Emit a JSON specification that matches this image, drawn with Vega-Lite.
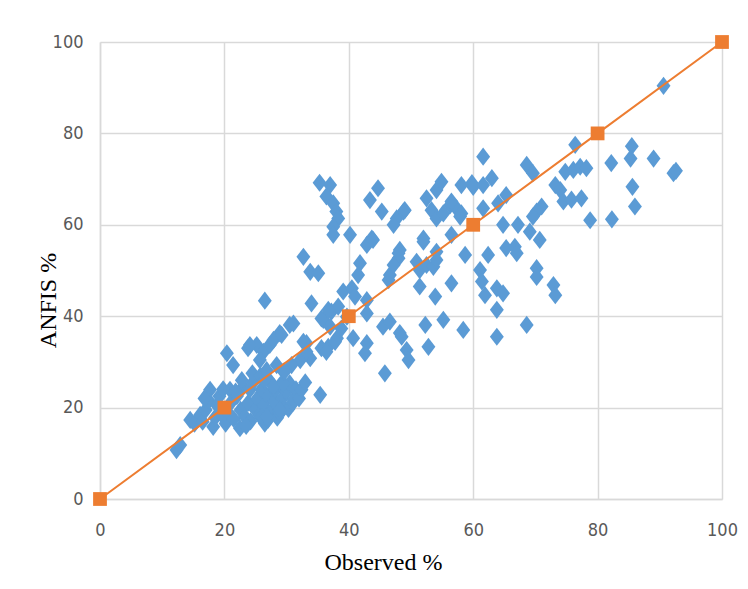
{
  "$schema": "https://vega.github.io/schema/vega-lite/v6.json",
  "width": 622,
  "height": 457,
  "autosize": {"type": "none"},
  "padding": {"left": 100, "top": 42, "right": 26, "bottom": 90},
  "background": "white",
  "config": {
    "view": {"stroke": null},
    "axis": {
      "gridColor": "#d9d9d9",
      "gridWidth": 1.5,
      "domainColor": "#d9d9d9",
      "domainWidth": 1.5,
      "ticks": false,
      "labelFlush": false,
      "labelColor": "#595959",
      "labelFont": "DejaVu Sans Condensed, Roboto, sans-serif",
      "labelFontSize": 18,
      "titleFont": "Liberation Serif",
      "titleFontWeight": "normal",
      "titleColor": "#000000",
      "titleFontSize": 24
    }
  },
  "datasets": {
    "obs": [
      {"observed": 12.3, "anfis": 10.7}, {"observed": 12.9, "anfis": 11.8}, {"observed": 14.5, "anfis": 17.3}, {"observed": 15.2, "anfis": 16.5},
      {"observed": 16.1, "anfis": 18.4}, {"observed": 16.5, "anfis": 16.9}, {"observed": 17.0, "anfis": 19.5}, {"observed": 17.7, "anfis": 23.9},
      {"observed": 17.5, "anfis": 21.5}, {"observed": 18.2, "anfis": 15.8}, {"observed": 18.5, "anfis": 17.8}, {"observed": 18.8, "anfis": 20.5},
      {"observed": 19.2, "anfis": 22.5}, {"observed": 19.5, "anfis": 18.5}, {"observed": 20.2, "anfis": 16.5}, {"observed": 20.4, "anfis": 19.2},
      {"observed": 20.9, "anfis": 23.9}, {"observed": 21.0, "anfis": 21.0}, {"observed": 21.5, "anfis": 17.5}, {"observed": 22.0, "anfis": 22.5},
      {"observed": 22.5, "anfis": 15.5}, {"observed": 22.6, "anfis": 19.5}, {"observed": 23.0, "anfis": 24.5}, {"observed": 23.3, "anfis": 18.0},
      {"observed": 23.8, "anfis": 21.0}, {"observed": 24.1, "anfis": 23.9}, {"observed": 24.2, "anfis": 17.0}, {"observed": 24.6, "anfis": 25.5},
      {"observed": 25.0, "anfis": 19.5}, {"observed": 25.3, "anfis": 22.0}, {"observed": 25.6, "anfis": 18.3}, {"observed": 26.0, "anfis": 24.0},
      {"observed": 26.3, "anfis": 20.5}, {"observed": 26.5, "anfis": 16.5}, {"observed": 27.0, "anfis": 17.3}, {"observed": 27.0, "anfis": 22.5},
      {"observed": 27.4, "anfis": 25.6}, {"observed": 27.8, "anfis": 19.5}, {"observed": 28.0, "anfis": 21.3}, {"observed": 28.2, "anfis": 23.8},
      {"observed": 28.5, "anfis": 17.8}, {"observed": 28.9, "anfis": 18.8}, {"observed": 29.0, "anfis": 25.0}, {"observed": 29.3, "anfis": 22.0},
      {"observed": 29.6, "anfis": 20.0}, {"observed": 30.0, "anfis": 23.5}, {"observed": 30.3, "anfis": 19.7}, {"observed": 30.5, "anfis": 25.3},
      {"observed": 31.0, "anfis": 21.0}, {"observed": 31.1, "anfis": 21.7}, {"observed": 31.5, "anfis": 24.0}, {"observed": 32.0, "anfis": 22.0},
      {"observed": 32.4, "anfis": 23.9}, {"observed": 33.0, "anfis": 25.5}, {"observed": 35.4, "anfis": 22.8}, {"observed": 16.8, "anfis": 22.0},
      {"observed": 19.8, "anfis": 24.0}, {"observed": 21.8, "anfis": 23.5}, {"observed": 22.8, "anfis": 26.0}, {"observed": 24.5, "anfis": 27.5},
      {"observed": 25.8, "anfis": 27.0}, {"observed": 26.5, "anfis": 26.0}, {"observed": 23.5, "anfis": 16.0}, {"observed": 26.0, "anfis": 18.0},
      {"observed": 28.9, "anfis": 19.5}, {"observed": 26.8, "anfis": 18.0}, {"observed": 27.9, "anfis": 24.6}, {"observed": 29.5, "anfis": 25.3},
      {"observed": 20.4, "anfis": 31.9}, {"observed": 21.4, "anfis": 29.3}, {"observed": 23.8, "anfis": 33.0}, {"observed": 25.2, "anfis": 33.7},
      {"observed": 26.3, "anfis": 32.2}, {"observed": 27.3, "anfis": 33.7}, {"observed": 25.7, "anfis": 30.4}, {"observed": 26.8, "anfis": 28.2},
      {"observed": 28.4, "anfis": 29.3}, {"observed": 29.5, "anfis": 27.9}, {"observed": 28.9, "anfis": 36.3}, {"observed": 27.9, "anfis": 34.8},
      {"observed": 29.2, "anfis": 35.9}, {"observed": 30.5, "anfis": 38.1}, {"observed": 26.5, "anfis": 43.4}, {"observed": 24.1, "anfis": 33.7},
      {"observed": 33.2, "anfis": 34.1}, {"observed": 33.8, "anfis": 30.8}, {"observed": 32.2, "anfis": 30.4}, {"observed": 30.8, "anfis": 29.3},
      {"observed": 29.7, "anfis": 27.9}, {"observed": 35.6, "anfis": 33.0}, {"observed": 36.7, "anfis": 33.3}, {"observed": 38.1, "anfis": 35.2},
      {"observed": 32.7, "anfis": 34.4}, {"observed": 33.2, "anfis": 32.2}, {"observed": 36.4, "anfis": 32.2}, {"observed": 37.8, "anfis": 34.4},
      {"observed": 38.8, "anfis": 37.3}, {"observed": 39.7, "anfis": 39.9}, {"observed": 35.9, "anfis": 39.2}, {"observed": 37.2, "anfis": 41.0},
      {"observed": 38.3, "anfis": 42.1}, {"observed": 31.1, "anfis": 38.4}, {"observed": 34.0, "anfis": 42.8}, {"observed": 35.6, "anfis": 39.5},
      {"observed": 37.0, "anfis": 37.7}, {"observed": 40.7, "anfis": 35.2}, {"observed": 42.9, "anfis": 34.1}, {"observed": 42.6, "anfis": 31.9},
      {"observed": 36.7, "anfis": 41.4}, {"observed": 35.3, "anfis": 69.2}, {"observed": 37.0, "anfis": 68.7}, {"observed": 36.4, "anfis": 66.2},
      {"observed": 37.5, "anfis": 64.7}, {"observed": 38.0, "anfis": 62.9}, {"observed": 38.3, "anfis": 61.4}, {"observed": 37.5, "anfis": 59.6},
      {"observed": 37.5, "anfis": 57.8}, {"observed": 40.2, "anfis": 57.8}, {"observed": 44.7, "anfis": 68.0}, {"observed": 43.4, "anfis": 65.4},
      {"observed": 45.3, "anfis": 62.9}, {"observed": 47.7, "anfis": 61.4}, {"observed": 48.8, "anfis": 62.9}, {"observed": 47.2, "anfis": 60.0},
      {"observed": 49.0, "anfis": 63.2}, {"observed": 43.7, "anfis": 57.0}, {"observed": 42.9, "anfis": 55.6}, {"observed": 43.9, "anfis": 56.7},
      {"observed": 48.2, "anfis": 54.5}, {"observed": 48.0, "anfis": 52.7}, {"observed": 32.7, "anfis": 53.0}, {"observed": 41.8, "anfis": 51.6},
      {"observed": 41.5, "anfis": 49.0}, {"observed": 33.8, "anfis": 49.7}, {"observed": 35.1, "anfis": 49.4}, {"observed": 39.1, "anfis": 45.4},
      {"observed": 40.5, "anfis": 46.1}, {"observed": 41.0, "anfis": 44.3}, {"observed": 42.9, "anfis": 43.5}, {"observed": 42.9, "anfis": 40.6},
      {"observed": 46.4, "anfis": 47.9}, {"observed": 46.6, "anfis": 49.0}, {"observed": 47.2, "anfis": 51.2}, {"observed": 48.0, "anfis": 53.8},
      {"observed": 52.0, "anfis": 56.3}, {"observed": 54.1, "anfis": 54.1}, {"observed": 56.5, "anfis": 57.8}, {"observed": 50.9, "anfis": 51.9},
      {"observed": 51.4, "anfis": 50.1}, {"observed": 52.5, "anfis": 51.2}, {"observed": 53.6, "anfis": 50.8}, {"observed": 58.7, "anfis": 53.4},
      {"observed": 51.4, "anfis": 46.5}, {"observed": 53.9, "anfis": 44.3}, {"observed": 56.5, "anfis": 47.2}, {"observed": 45.5, "anfis": 37.7},
      {"observed": 46.6, "anfis": 38.8}, {"observed": 48.2, "anfis": 36.3}, {"observed": 48.5, "anfis": 35.5}, {"observed": 52.3, "anfis": 38.1},
      {"observed": 55.2, "anfis": 39.2}, {"observed": 58.4, "anfis": 37.0}, {"observed": 49.3, "anfis": 32.6}, {"observed": 49.6, "anfis": 30.4},
      {"observed": 52.8, "anfis": 33.3}, {"observed": 45.8, "anfis": 27.5}, {"observed": 54.1, "anfis": 52.3}, {"observed": 52.0, "anfis": 57.0},
      {"observed": 52.5, "anfis": 65.8}, {"observed": 54.1, "anfis": 67.6}, {"observed": 54.9, "anfis": 69.4}, {"observed": 53.3, "anfis": 63.2},
      {"observed": 54.1, "anfis": 61.4}, {"observed": 56.3, "anfis": 64.3}, {"observed": 57.3, "anfis": 63.6}, {"observed": 55.2, "anfis": 62.5},
      {"observed": 58.1, "anfis": 62.5}, {"observed": 58.1, "anfis": 68.7}, {"observed": 59.8, "anfis": 69.1}, {"observed": 56.5, "anfis": 65.1},
      {"observed": 60.0, "anfis": 68.3}, {"observed": 61.6, "anfis": 68.7}, {"observed": 63.0, "anfis": 70.2}, {"observed": 61.6, "anfis": 74.9},
      {"observed": 57.9, "anfis": 61.8}, {"observed": 61.1, "anfis": 50.1}, {"observed": 61.4, "anfis": 47.6}, {"observed": 61.9, "anfis": 44.6},
      {"observed": 63.8, "anfis": 46.1}, {"observed": 64.8, "anfis": 45.0}, {"observed": 63.8, "anfis": 41.4}, {"observed": 70.2, "anfis": 50.5},
      {"observed": 70.2, "anfis": 48.6}, {"observed": 72.9, "anfis": 46.8}, {"observed": 73.2, "anfis": 44.6}, {"observed": 68.6, "anfis": 38.1},
      {"observed": 63.8, "anfis": 35.5}, {"observed": 65.3, "anfis": 54.9}, {"observed": 66.7, "anfis": 55.2}, {"observed": 67.0, "anfis": 53.8},
      {"observed": 62.4, "anfis": 53.4}, {"observed": 64.8, "anfis": 60.0}, {"observed": 67.2, "anfis": 60.0}, {"observed": 69.1, "anfis": 58.5},
      {"observed": 70.7, "anfis": 56.7}, {"observed": 71.0, "anfis": 64.0}, {"observed": 70.2, "anfis": 62.9}, {"observed": 69.6, "anfis": 61.8},
      {"observed": 64.0, "anfis": 64.7}, {"observed": 65.3, "anfis": 66.5}, {"observed": 61.6, "anfis": 63.6}, {"observed": 73.2, "anfis": 68.7},
      {"observed": 74.0, "anfis": 67.6}, {"observed": 74.5, "anfis": 65.1}, {"observed": 75.8, "anfis": 65.5}, {"observed": 77.4, "anfis": 65.8},
      {"observed": 78.8, "anfis": 61.0}, {"observed": 82.3, "anfis": 61.2}, {"observed": 68.6, "anfis": 73.1}, {"observed": 69.6, "anfis": 71.3},
      {"observed": 74.8, "anfis": 71.6}, {"observed": 76.1, "anfis": 72.0}, {"observed": 77.2, "anfis": 72.7}, {"observed": 78.2, "anfis": 72.4},
      {"observed": 76.4, "anfis": 77.5}, {"observed": 85.5, "anfis": 77.2}, {"observed": 85.3, "anfis": 74.5}, {"observed": 89.0, "anfis": 74.5},
      {"observed": 92.2, "anfis": 71.3}, {"observed": 92.6, "anfis": 71.8}, {"observed": 82.2, "anfis": 73.5}, {"observed": 85.6, "anfis": 68.3},
      {"observed": 86.0, "anfis": 64.0}, {"observed": 90.6, "anfis": 90.4}
    ],
    "line": [
      {"observed": 0, "anfis": 0}, {"observed": 20, "anfis": 20}, {"observed": 40, "anfis": 40},
      {"observed": 60, "anfis": 60}, {"observed": 80, "anfis": 80}, {"observed": 100, "anfis": 100}
    ]
  },
  "layer": [
    {
      "data": {"name": "obs"},
      "mark": {"type": "point", "shape": "M0,-1.15L0.88,0L0,1.15L-0.88,0Z", "filled": true, "color": "#5B9BD5", "opacity": 1, "size": 250},
      "encoding": {
        "x": {"field": "observed", "type": "quantitative",
          "scale": {"domain": [0, 100], "nice": false},
          "axis": {"values": [0, 20, 40, 60, 80, 100], "title": "Observed %", "labelPadding": 22,
                   "titleX": 283, "titleY": 70, "titleBaseline": "alphabetic"}},
        "y": {"field": "anfis", "type": "quantitative",
          "scale": {"domain": [0, 100], "nice": false},
          "axis": {"values": [0, 20, 40, 60, 80, 100], "title": "ANFIS %", "labelPadding": 17,
                   "titleX": -45, "titleY": 258, "titleBaseline": "alphabetic", "titleAngle": -90, "titleAlign": "center"}}
      }
    },
    {
      "data": {"name": "line"},
      "mark": {"type": "line", "color": "#ED7D31", "strokeWidth": 2,
               "point": {"shape": "square", "size": 190, "filled": true, "color": "#ED7D31", "opacity": 1}},
      "encoding": {
        "x": {"field": "observed", "type": "quantitative"},
        "y": {"field": "anfis", "type": "quantitative"}
      }
    }
  ]
}
